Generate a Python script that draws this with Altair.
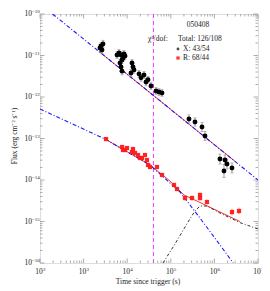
import altair as alt
import pandas as pd

W, H = 218, 249
FONT = "Liberation Serif"
TC = "#999999"

# ---- X-ray data (black points) ----
x_t = [2376, 2506, 2643, 2786, 5834, 6486, 7211, 7603, 6839, 8017, 8453, 7211, 7603, 8913,
       12890, 13590, 14330, 12220, 18660, 20750, 24290, 26990, 29990, 35150, 45790, 53610, 62830,
       261200, 358600, 519700, 608500, 1.343e6, 1.75e6, 1.66e6, 1.945e6, 2.533e6]
x_f = [1.52e-11, 1.69e-11, 1.36e-11, 1.89e-11, 1.03e-11, 1.15e-11, 1.03e-11, 7.8e-12, 6.6e-12,
       8.7e-12, 1.09e-11, 5.3e-12, 4.2e-12, 9.7e-12,
       6.6e-12, 5.3e-12, 4.5e-12, 3.8e-12, 3.6e-12, 2.9e-12, 3.4e-12, 2.3e-12, 2.6e-12, 1.84e-12,
       1.40e-12, 1.32e-12, 1.25e-12,
       2.95e-13, 2.50e-13, 1.89e-13, 1.15e-13, 3.2e-14, 3.03e-14, 1.65e-14, 2.43e-14, 1.95e-14]
x_e = [0.09, 0.09, 0.09, 0.09, 0.08, 0.08, 0.08, 0.08, 0.08, 0.08, 0.08, 0.09, 0.09, 0.08,
       0.08, 0.08, 0.08, 0.09, 0.08, 0.08, 0.08, 0.09, 0.08, 0.08, 0.08, 0.08, 0.08,
       0.10, 0.10, 0.11, 0.11, 0.12, 0.12, 0.16, 0.12, 0.12]

# ---- R-band data (red squares) ----
r_t = [3266, 7603, 8017, 8913, 9880, 12890, 13590, 15100, 17700, 19680, 21840, 25600, 28450,
       29990, 33330, 48200, 62830, 118400, 138700, 211600, 306400, 467700, 467700, 676700,
       2.533e6, 3.667e6]
r_f = [9.7e-14, 6.24e-14, 5.28e-14, 5.28e-14, 5.9e-14, 4.73e-14, 5.58e-14, 4.48e-14, 4.0e-14,
       3.39e-14, 3.39e-14, 4.0e-14, 3.03e-14, 2.3e-14, 2.06e-14, 2.06e-14, 1.32e-14, 7.58e-15,
       6.07e-15, 3.68e-15, 3.68e-15, 4.35e-15, 3.68e-15, 2.95e-15, 1.69e-15, 1.79e-15]
r_e = [0.04, 0.04, 0.04, 0.04, 0.04, 0.04, 0.04, 0.04, 0.04, 0.04, 0.04, 0.04, 0.04,
       0.04, 0.04, 0.04, 0.05, 0.05, 0.05, 0.06, 0.06, 0.06, 0.06, 0.06, 0.08, 0.08]

# ---- model curves ----
xpl_t = [195, 1e7]
xpl_f = [1e-10, 1e-14]
xtot_t = [2300, 3e6]
xtot_f = [1.23e-11, 2.8e-14]
rpl_t = [100, 3266, 33330, 162600, 467700, 1.343e6, 2.7e6]
rpl_f = [5.14e-13, 9.46e-14, 2.30e-14, 5.14e-15, 1.21e-15, 2.72e-16, 1e-16]
rtot_t = [3266, 33330, 95940, 200900, 467700, 1.343e6, 3.86e6]
rtot_f = [9.46e-14, 2.30e-14, 9.46e-15, 4.35e-15, 2.87e-15, 1.69e-15, 1.0e-15]
bump_t = [66220, 124700, 247700, 358600, 467700, 676700, 1.343e6, 3.86e6, 1e7]
bump_f = [1e-16, 2.87e-16, 9.7e-16, 1.79e-15, 2.36e-15, 2.36e-15, 1.6e-15, 9.4e-16, 6.6e-16]
t_break = [4e4]

# ---- axes ----
x_major = [1e2, 1e3, 1e4, 1e5, 1e6, 1e7]
x_exp = ["2", "3", "4", "5", "6", "7"]
x_minor = [m * 10.0 ** k for k in range(2, 7) for m in range(2, 10)]
y_major = [1e-16, 1e-15, 1e-14, 1e-13, 1e-12, 1e-11, 1e-10]
y_exp = ["\u221216", "\u221215", "\u221214", "\u221213", "\u221212", "\u221211", "\u221210"]
y_minor = [m * 10.0 ** k for k in range(-16, -10) for m in range(2, 10)]

xs = alt.Scale(type="log", domain=[1e2, 1e7], nice=False)
ys = alt.Scale(type="log", domain=[1e-16, 1e-10], nice=False)


def X(field="t"):
    return alt.X(f"{field}:Q", scale=xs, axis=None)


def Y(field="f"):
    return alt.Y(f"{field}:Q", scale=ys, axis=None)


def line(ts, fs, color, dash=None, width=1.0):
    df = pd.DataFrame({"t": ts, "f": fs})
    kw = dict(color=color, strokeWidth=width, clip=True)
    if dash:
        kw["strokeDash"] = dash
    return alt.Chart(df).mark_line(**kw).encode(x=X(), y=Y(), order="t:Q")


layers = []

# ticks
for vals, ln in [(x_major, 4.5), (x_minor, 2.5)]:
    d = pd.DataFrame({"t": vals})
    layers.append(alt.Chart(d).mark_rule(color=TC, strokeWidth=0.8).encode(
        x=X(), y=alt.value(H), y2=alt.value(H - ln)))
    layers.append(alt.Chart(d).mark_rule(color=TC, strokeWidth=0.8).encode(
        x=X(), y=alt.value(0), y2=alt.value(ln)))
for vals, ln in [(y_major, 4.5), (y_minor, 2.5)]:
    d = pd.DataFrame({"f": vals})
    layers.append(alt.Chart(d).mark_rule(color=TC, strokeWidth=0.8).encode(
        y=Y(), x=alt.value(0), x2=alt.value(ln)))
    layers.append(alt.Chart(d).mark_rule(color=TC, strokeWidth=0.8).encode(
        y=Y(), x=alt.value(W), x2=alt.value(W - ln)))

# vertical dashed line
layers.append(alt.Chart(pd.DataFrame({"t": t_break})).mark_rule(
    color="#ff33ff", strokeDash=[4, 3], strokeWidth=1).encode(
    x=X(), y=alt.value(0), y2=alt.value(H)))

# model lines
layers.append(line(xtot_t, xtot_f, "#ff3030", width=1.0))
layers.append(line(rtot_t, rtot_f, "#ff3030", width=1.0))
layers.append(line(bump_t, bump_f, "#333333", dash=[3, 2, 1, 2], width=1.0))
layers.append(line(xpl_t, xpl_f, "#1a1aff", dash=[4, 2, 1, 2], width=1.1))
layers.append(line(rpl_t, rpl_f, "#1a1aff", dash=[4, 2, 1, 2], width=1.1))

# X-ray error bars + points
xd = pd.DataFrame({"t": x_t, "f": x_f, "e": x_e})
xd["lo"] = xd["f"] / 10 ** xd["e"]
xd["hi"] = xd["f"] * 10 ** xd["e"]
layers.append(alt.Chart(xd).mark_rule(color="#888888", strokeWidth=0.8).encode(
    x=X(), y=Y("lo"), y2="hi:Q"))
layers.append(alt.Chart(xd).mark_tick(color="#888888", size=3, thickness=0.8, orient="horizontal").encode(
    x=X(), y=Y("lo")))
layers.append(alt.Chart(xd).mark_tick(color="#888888", size=3, thickness=0.8, orient="horizontal").encode(
    x=X(), y=Y("hi")))
layers.append(alt.Chart(xd).mark_point(shape="circle", filled=True, color="black", size=24, opacity=1).encode(
    x=X(), y=Y()))

# R error bars + points
rd = pd.DataFrame({"t": r_t, "f": r_f, "e": r_e})
rd["lo"] = rd["f"] / 10 ** rd["e"]
rd["hi"] = rd["f"] * 10 ** rd["e"]
layers.append(alt.Chart(rd).mark_rule(color="#ff6666", strokeWidth=0.8).encode(
    x=X(), y=Y("lo"), y2="hi:Q"))
layers.append(alt.Chart(rd).mark_point(shape="square", filled=True, color="#ff1a1a", size=18, opacity=0.95).encode(
    x=X(), y=Y()))

# tick labels
xl = pd.DataFrame({"t": x_major, "b": ["10"] * 6, "e": x_exp})
layers.append(alt.Chart(xl).mark_text(font=FONT, fontSize=7.5, align="center", baseline="alphabetic",
                                      color="#222222", dx=-1).encode(x=X(), y=alt.value(H + 11), text="b:N"))
layers.append(alt.Chart(xl).mark_text(font=FONT, fontSize=5, align="left", baseline="alphabetic",
                                      color="#222222", dx=3).encode(x=X(), y=alt.value(H + 7.5), text="e:N"))
yl = pd.DataFrame({"f": y_major, "b": ["10"] * 7, "e": y_exp})
layers.append(alt.Chart(yl).mark_text(font=FONT, fontSize=7.5, align="right", baseline="middle",
                                      color="#222222").encode(y=Y(), x=alt.value(-8), text="b:N"))
layers.append(alt.Chart(yl).mark_text(font=FONT, fontSize=5, align="left", baseline="middle",
                                      color="#222222", dy=-3).encode(y=Y(), x=alt.value(-8), text="e:N"))


# axis titles
def label(txt, x, y, size=7.5, align="left", angle=0, color="#222222"):
    kw = dict(font=FONT, fontSize=size, align=align, baseline="middle", color=color)
    if angle:
        kw["angle"] = angle
    return alt.Chart(pd.DataFrame({"s": [txt]})).mark_text(**kw).encode(
        x=alt.value(x), y=alt.value(y), text="s:N")


layers.append(label("Time since trigger (s)", W / 2 - 1, 268, size=7.5, align="center"))
layers.append(label("Flux (erg cm\u207b\u00b2 s\u207b\u00b9)", -25, 122, size=7.5, align="center", angle=270))

# legend / annotation
layers.append(label("050408", 158, 11, align="center"))
layers.append(label("\u03c7\u00b2/dof:", 108, 25))
layers.append(label("Total: 126/108", 138, 25))
layers.append(alt.Chart(pd.DataFrame({"a": [0]})).mark_point(shape="circle", filled=True, color="black", size=8).encode(
    x=alt.value(138), y=alt.value(35)))
layers.append(label("X: 43/54", 143, 35))
layers.append(alt.Chart(pd.DataFrame({"a": [0]})).mark_point(shape="square", filled=True, color="#ff9999", size=14).encode(
    x=alt.value(138), y=alt.value(44)))
layers.append(alt.Chart(pd.DataFrame({"a": [0]})).mark_point(shape="cross", filled=True, color="#ff0000", size=14, angle=45).encode(
    x=alt.value(138), y=alt.value(44)))
layers.append(label("R: 68/44", 143, 44))

chart = alt.layer(*layers).properties(
    width=W, height=H,
    autosize=alt.AutoSizeParams(type="none"),
    padding={"left": 32, "top": 6, "right": 4, "bottom": 26},
).configure_view(stroke="#8c8c8c", strokeWidth=1).configure(background="white")

chart.save("out.html", embed_options={"renderer": "svg", "actions": False})
